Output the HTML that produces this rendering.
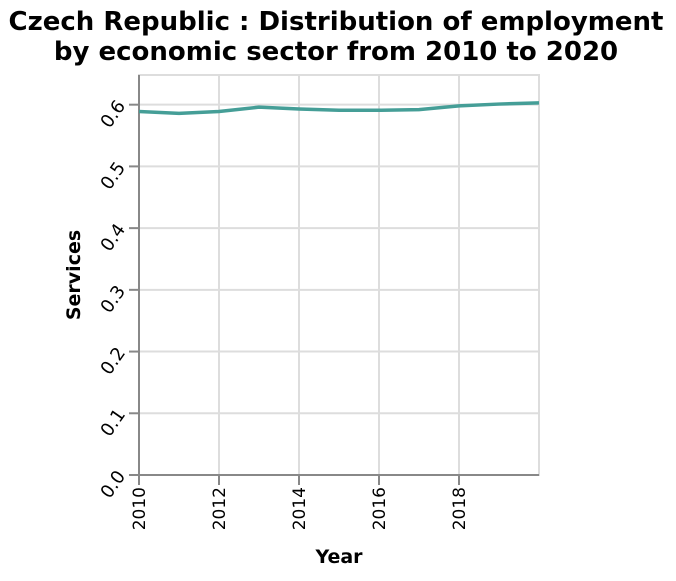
<!DOCTYPE html>
<html><head><meta charset="utf-8"><style>
body{margin:0;background:#fff;}
svg text{font-family:"DejaVu Sans","Liberation Sans",sans-serif;}
</style></head><body>
<svg id="chart" width="676" height="576">
<text x="336" y="30" text-anchor="middle" font-size="26" font-weight="bold">Czech Republic : Distribution of employment</text>
<text x="336" y="60" text-anchor="middle" font-size="26" font-weight="bold">by economic sector from 2010 to 2020</text>
<g id="grid"></g>
<g id="axes"></g>
<text x="339" y="563" text-anchor="middle" font-size="19" font-weight="bold">Year</text>
<text transform="translate(80,275) rotate(-90)" text-anchor="middle" font-size="19" font-weight="bold">Services</text>
</svg>
<script>
const years=[2010,2011,2012,2013,2014,2015,2016,2017,2018,2019,2020];
const services=[0.589,0.586,0.589,0.596,0.593,0.591,0.591,0.592,0.598,0.601,0.603];
const xTicks=[2010,2012,2014,2016,2018];
const yTicks=[0,0.1,0.2,0.3,0.4,0.5,0.6];
const yTickLabels=["0.0","0.1","0.2","0.3","0.4","0.5","0.6"];
const NS="http://www.w3.org/2000/svg";
const L=139,R=539,T=75,B=475;
const x=v=>L+(v-2010)/10*(R-L);
const y=v=>B-v*617.2;
function mk(tag,attrs,parent){const e=document.createElementNS(NS,tag);for(const k in attrs)e.setAttribute(k,attrs[k]);parent.appendChild(e);return e;}
const svg=document.getElementById('chart'),grid=document.getElementById('grid'),axes=document.getElementById('axes');
mk('rect',{x:L,y:T,width:R-L,height:B-T,fill:'none',stroke:'#ddd','stroke-width':2},grid);
xTicks.forEach(t=>{
 const g=mk('line',{x1:x(t),x2:x(t),y1:T,y2:B,stroke:'#ddd','stroke-width':2},grid);
 
 
 mk('line',{x1:x(t),x2:x(t),y1:B,y2:B+10,stroke:'#888','stroke-width':2},axes);
 const tx=mk('text',{transform:`translate(${x(t)+6},${B+12}) rotate(-90)`,'text-anchor':'end','font-size':17},axes);
 tx.textContent=t;
 
 
});
yTicks.forEach((t,i)=>{
 const g=mk('line',{x1:L,x2:R,y1:y(t),y2:y(t),stroke:'#ddd','stroke-width':2},grid);
 
 
 mk('line',{x1:L-10,x2:L,y1:y(t),y2:y(t),stroke:'#888','stroke-width':2},axes);
 const tx=mk('text',{transform:`translate(${L-13},${y(t)+1}) rotate(-55)`,'text-anchor':'end','font-size':18},axes);
 tx.textContent=yTickLabels[i];
 
 
});
mk('line',{x1:L,x2:L,y1:T,y2:B,stroke:'#888','stroke-width':2},axes);
mk('line',{x1:L,x2:R,y1:B,y2:B,stroke:'#888','stroke-width':2},axes);
const p=mk('path',{d:years.map((yr,i)=>(i?'L':'M')+x(yr)+','+y(services[i])).join(''),fill:'none',stroke:'#459e97','stroke-width':3.5},svg);


</script>
</body></html>
